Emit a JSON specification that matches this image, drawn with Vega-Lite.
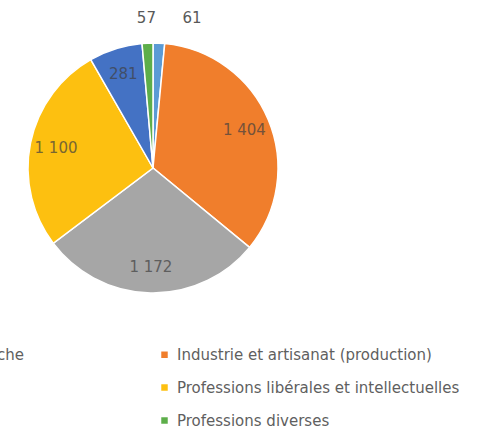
{
  "$schema": "https://vega.github.io/schema/vega-lite/v6.json",
  "autosize": "none",
  "width": 306,
  "height": 336,
  "padding": {"left": 0, "top": 0, "right": 180, "bottom": 100},
  "background": "white",
  "config": {"view": {"stroke": null}},
  "data": {
    "values": [
      {"cat": "Agriculture et pêche", "value": 61, "label": "61", "order": 1},
      {"cat": "Industrie et artisanat (production)", "value": 1404, "label": "1 404", "order": 2},
      {"cat": "Commerce", "value": 1172, "label": "1 172", "order": 3},
      {"cat": "Professions libérales et intellectuelles", "value": 1100, "label": "1 100", "order": 4},
      {"cat": "Transports", "value": 281, "label": "281", "order": 5},
      {"cat": "Professions diverses", "value": 57, "label": "57", "order": 6}
    ]
  },
  "encoding": {
    "theta": {"field": "value", "type": "quantitative", "stack": true},
    "order": {"field": "order", "type": "quantitative"}
  },
  "layer": [
    {
      "mark": {"type": "arc", "outerRadius": 125, "stroke": "white", "strokeWidth": 1.5},
      "encoding": {
        "color": {
          "field": "cat",
          "type": "nominal",
          "scale": {
            "domain": ["Agriculture et pêche", "Commerce", "Transports", "Industrie et artisanat (production)", "Professions libérales et intellectuelles", "Professions diverses"],
            "range": ["#5B9BD5", "#A6A6A6", "#4472C4", "#F07E2C", "#FDC010", "#5DAE4A"]
          },
          "legend": {
            "orient": "none",
            "legendX": -149,
            "legendY": 347,
            "columns": 2,
            "title": null,
            "padding": 0,
            "symbolType": "square",
            "symbolSize": 42,
            "symbolStrokeWidth": 0,
            "labelFont": "DejaVu Sans",
            "labelFontSize": 15,
            "labelColor": "#5f5f5f",
            "labelOffset": 5,
            "labelLimit": 400,
            "rowPadding": 17,
            "columnPadding": 133
          }
        }
      }
    },
    {
      "mark": {"type": "text", "radius": 99, "font": "DejaVu Sans", "fontSize": 15, "fill": "#404040", "opacity": 0.7},
      "encoding": {
        "text": {"condition": {"test": "datum.value > 200", "field": "label"}, "value": ""}
      }
    },
    {
      "mark": {"type": "text", "radius": 150, "font": "DejaVu Sans", "fontSize": 15, "fill": "#595959"},
      "encoding": {
        "text": {"condition": {"test": "datum.order == 6", "field": "label"}, "value": ""}
      }
    },
    {
      "mark": {"type": "text", "radius": 150, "dx": 32, "font": "DejaVu Sans", "fontSize": 15, "fill": "#595959"},
      "encoding": {
        "text": {"condition": {"test": "datum.order == 1", "field": "label"}, "value": ""}
      }
    }
  ]
}
